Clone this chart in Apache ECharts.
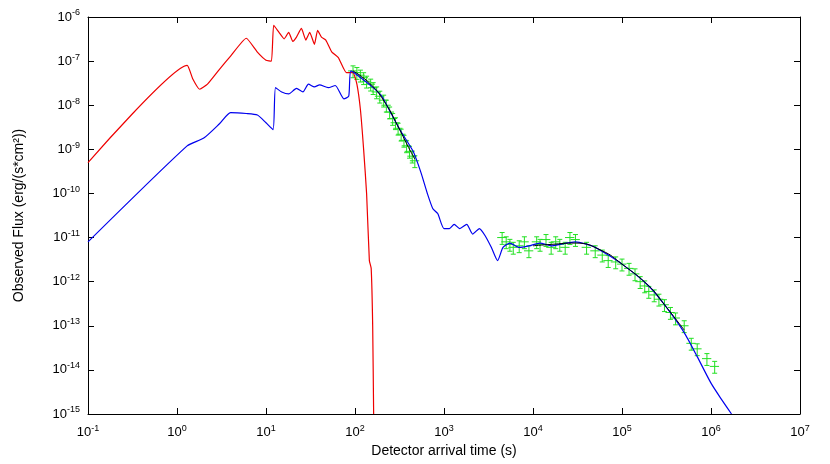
<!DOCTYPE html><html><head><meta charset="utf-8">
<script src="https://cdn.jsdelivr.net/npm/echarts@6/dist/echarts.min.js"></script>
<style>body{margin:0}#c{width:830px;height:464px}</style></head><body><div id="c"></div>
<script>
const redCurve=[[0.1,5e-10],[1.3,8e-8],[1.5,4e-8],[1.8,2.3e-8],[2.2,3e-8],[3,6.5e-8],[4,1.3e-7],[6,3.3e-7],[8,1.6e-7],[10,1.05e-7],[11.5,1e-7],[12.2,6.5e-7],[14,4.5e-7],[16,3.2e-7],[18,4.5e-7],[20,2.8e-7],[22,3.5e-7],[25,5.5e-7],[28,3e-7],[31,4.5e-7],[35,2.4e-7],[38,5e-7],[42,3.5e-7],[47,3e-7],[55,1.6e-7],[65,1.2e-7],[80,5.5e-8],[95,5.5e-8],[105,3e-8],[115,8e-9],[125,1e-9],[135,1e-10],[145,3e-12],[152,2e-12],[158,1e-13],[162,1e-15]];
const blueCurve=[[0.1,8e-12],[1.3,1.2e-9],[2,1.8e-9],[3,3.8e-9],[4,6.8e-9],[6,6.5e-9],[8,6e-9],[10,4e-9],[12,2.8e-9],[12.8,2.5e-8],[15,2e-8],[18,1.8e-8],[22,2.4e-8],[26,2e-8],[30,3e-8],[35,2.6e-8],[40,2.9e-8],[50,2.5e-8],[60,2.8e-8],[75,1.4e-8],[85,1.6e-8],[90,6e-8],[120,4e-8],[160,2.5e-8],[200,1.6e-8],[260,6e-9],[330,2.5e-9],[450,9e-10],[550,3e-10],[650,1e-10],[750,4.5e-11],[850,3.5e-11],[1000,1.6e-11],[1150,1.6e-11],[1300,2e-11],[1500,1.6e-11],[1800,2e-11],[2100,1.2e-11],[2500,1.6e-11],[2900,1.1e-11],[3400,6e-12],[4000,3e-12],[4600,6e-12],[5500,7.5e-12],[7000,6e-12],[9000,6.5e-12],[1.2e4,7.5e-12],[1.6e4,6.5e-12],[2e4,7e-12],[3e4,8e-12],[5e4,6e-12],[1e5,2.5e-12],[2e5,8e-13],[3e5,3e-13],[5e5,7e-14],[7e5,2e-14],[1e6,5e-15],[1.3e6,2.2e-15],[1.7e6,1e-15]];
const fitEarly=[[95,6e-8],[150,3e-8],[220,1.1e-8],[300,3.5e-9],[400,1.1e-9],[470,6e-10]];
const fitLate=[[1e4,6.5e-12],[1.6e4,7e-12],[3e4,7.5e-12],[6e4,5e-12],[1e5,2.5e-12],[2e5,8e-13],[3e5,3e-13],[5e5,8e-14]];
const obsEarly=[[95,6e-8],[105,5.5e-8],[115,4.8e-8],[125,4.2e-8],[135,3.5e-8],[150,3e-8],[160,2.5e-8],[175,2e-8],[190,1.6e-8],[210,1.3e-8],[225,1e-8],[245,7e-9],[265,5e-9],[285,4e-9],[305,3e-9],[330,2.2e-9],[355,1.6e-9],[380,1.2e-9],[410,9e-10],[440,7e-10],[470,5.5e-10]];
const obsLate=[[4500,1e-11],[5000,8e-12],[5500,7e-12],[6000,6e-12],[7000,6.5e-12],[8000,8e-12],[9000,5e-12],[1.1e4,8e-12],[1.2e4,7e-12],[1.4e4,9e-12],[1.6e4,6e-12],[1.8e4,8e-12],[2e4,7e-12],[2.3e4,6e-12],[2.6e4,1e-11],[3e4,9e-12],[4e4,6e-12],[5e4,5e-12],[6e4,4e-12],[7e4,3e-12],[8.5e4,2.8e-12],[1e5,2.5e-12],[1.2e5,2e-12],[1.4e5,1.5e-12],[1.6e5,1e-12],[1.8e5,8e-13],[2e5,6e-13],[2.3e5,5e-13],[2.6e5,4e-13],[3e5,3e-13],[3.5e5,2e-13],[4e5,1.5e-13],[5e5,1e-13],[6e5,4e-14],[7e5,3e-14],[9e5,1.8e-14],[1.1e6,1.2e-14]];
const errFrac=0.3, xErrFrac=0.12;
const green='#22e022';
function errItem(params,api){
  const t=api.value(0),f=api.value(1);
  const c=api.coord([t,f]),lo=api.coord([t,f*(1-errFrac)]),hi=api.coord([t,f*(1+errFrac)]);
  const l=api.coord([t*(1-xErrFrac),f]),r=api.coord([t*(1+xErrFrac),f]);
  const st={stroke:green,lineWidth:1};
  return {type:'group',children:[
    {type:'line',shape:{x1:c[0],y1:lo[1],x2:c[0],y2:hi[1]},style:st},
    {type:'line',shape:{x1:l[0],y1:c[1],x2:r[0],y2:c[1]},style:st},
    {type:'line',shape:{x1:c[0]-2.5,y1:lo[1],x2:c[0]+2.5,y2:lo[1]},style:st},
    {type:'line',shape:{x1:c[0]-2.5,y1:hi[1],x2:c[0]+2.5,y2:hi[1]},style:st}]};
}
const F='Liberation Sans';
function fmt(v){const e=Math.round(Math.log10(v));return '10{s|'+e+'}';}
const rich={s:{fontSize:9,verticalAlign:'top',padding:[0,0,8,0],fontFamily:F,color:'#000'}};
const ax={axisLine:{show:true,lineStyle:{color:'#000'}},axisTick:{inside:true,length:6,lineStyle:{color:'#000'}},splitLine:{show:false}};
const chart=echarts.init(document.getElementById('c'));
chart.setOption({animation:false,
grid:{left:88,right:30,top:17,bottom:50},
xAxis:[Object.assign({type:'log',min:0.1,max:1e7,logBase:10,name:'Detector arrival time (s)',nameLocation:'middle',nameGap:30,nameTextStyle:{fontFamily:F,fontSize:14,color:'#000'},axisLabel:{formatter:fmt,rich:rich,fontFamily:F,fontSize:13,color:'#000',margin:10}},ax),
 Object.assign({type:'log',min:0.1,max:1e7,position:'top',axisLabel:{show:false}},ax)],
yAxis:[Object.assign({type:'log',min:1e-15,max:1e-6,name:'Observed Flux (erg/(s*cm²))',nameLocation:'middle',nameGap:62,nameTextStyle:{fontFamily:F,fontSize:14,color:'#000'},axisLabel:{formatter:fmt,rich:rich,fontFamily:F,fontSize:13,color:'#000'}},ax),
 Object.assign({type:'log',min:1e-15,max:1e-6,position:'right',axisLabel:{show:false}},ax)],
series:[
{type:'line',data:redCurve,showSymbol:false,smooth:0.15,lineStyle:{color:'#ee0000',width:1.2}},
{type:'line',data:blueCurve,showSymbol:false,smooth:0.2,lineStyle:{color:'#0000ee',width:1.2}},
{type:'custom',data:obsEarly,renderItem:errItem},
{type:'custom',data:obsLate,renderItem:errItem},
{type:'line',data:fitEarly,showSymbol:false,smooth:true,lineStyle:{color:'#000',width:1}},
{type:'line',data:fitLate,showSymbol:false,smooth:true,lineStyle:{color:'#000',width:1}}
]});
</script></body></html>
